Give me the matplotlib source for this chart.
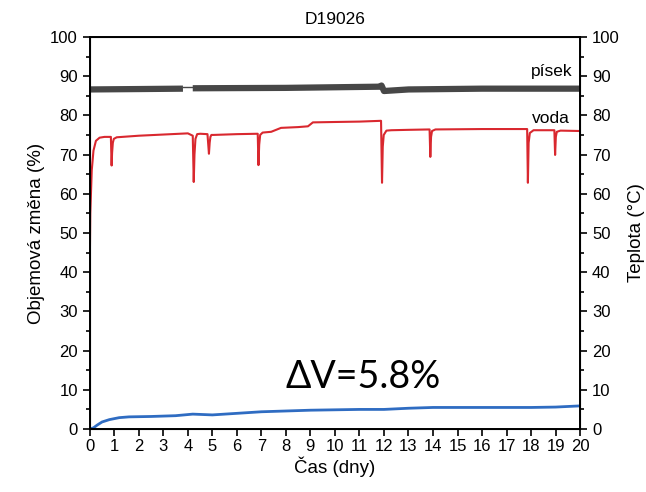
import matplotlib.pyplot as plt
import numpy as np
from matplotlib.ticker import MultipleLocator

plt.rcParams['font.family'] = ['Liberation Sans', 'DejaVu Sans']

# voda (water) - volume change %
voda_t = [0, 0.02, 0.08, 0.15, 0.25, 0.4, 0.6, 0.86, 0.89, 0.91, 0.94, 0.98, 1.1, 2, 3, 4.0,
          4.2, 4.24, 4.27, 4.31, 4.38, 4.5, 4.8, 4.86, 4.89, 4.92, 4.96, 5.05, 6, 6.85, 6.88,
          6.91, 6.95, 7.05, 7.4, 7.8, 8.5, 8.9, 9.1, 10, 11, 11.88, 11.92, 11.95, 11.99, 12.1,
          12.3, 13, 13.86, 13.89, 13.92, 13.96, 14.1, 16, 17.84, 17.87, 17.9, 17.95, 18.1,
          18.3, 18.95, 18.98, 19.01, 19.05, 19.2, 20]
voda_v = [42, 55, 66, 71, 73.5, 74.3, 74.5, 74.5, 67.2, 70.5, 73, 74, 74.4, 74.8, 75.1, 75.4,
          74.8, 63, 70, 74, 75.2, 75.3, 75.2, 70.2, 73, 74.5, 75.0, 75.0, 75.2, 75.3, 67.3,
          72.5, 75, 75.6, 75.8, 76.8, 77.0, 77.2, 78.2, 78.3, 78.4, 78.6, 62.8, 72, 75, 76.1,
          76.2, 76.3, 76.4, 69.4, 74.5, 76, 76.4, 76.5, 76.5, 62.8, 73, 75.5, 76.2, 76.2,
          76.2, 69.9, 74.5, 75.8, 76.1, 76.0]

# písek (sand)
pisek_t = [0, 2, 3.8, np.nan, 4.2, 8, 11.8, 11.9, 12.0, 12.5, 13, 16, 20]
pisek_v = [86.6, 86.7, 86.8, np.nan, 86.9, 87.0, 87.3, 87.6, 86.2, 86.4, 86.6, 86.8, 86.8]
gap_t = [3.8, 4.2]
gap_v = [87.2, 87.2]

# volume change of sample
dv_t = [0, 0.15, 0.3, 0.5, 0.8, 1.2, 1.6, 2.5, 3.5, 4.2, 5, 6, 7, 8, 9, 10, 11, 12, 13,
        14, 15, 16, 17, 18, 19, 20]
dv_v = [0, 0.3, 1.0, 1.8, 2.4, 2.9, 3.1, 3.2, 3.4, 3.8, 3.6, 4.0, 4.4, 4.6, 4.8, 4.9, 5.0,
        5.0, 5.3, 5.5, 5.5, 5.5, 5.5, 5.5, 5.6, 5.9]

fig = plt.figure(figsize=(6.46, 4.92), dpi=100)
ax = fig.add_axes([0.139, 0.128, 0.759, 0.797])

ax.plot(pisek_t, pisek_v, color='#474747', lw=4.5, solid_capstyle='butt')
ax.plot(gap_t, gap_v, color='#474747', lw=1)
ax.plot(voda_t, voda_v, color='#d9282f', lw=1.5)
ax.plot(dv_t, dv_v, color='#2f6cc2', lw=2)

ax.set_xlim(0, 20)
ax.set_ylim(0, 100)
ax.xaxis.set_major_locator(MultipleLocator(1))
ax.yaxis.set_major_locator(MultipleLocator(10))
ax.yaxis.set_minor_locator(MultipleLocator(5))
ax.tick_params(which='major', direction='out', length=5, width=1.2, labelsize=12)
ax.tick_params(which='minor', direction='out', length=3, width=1.2)
ax.tick_params(axis='x', pad=2)
for s in ax.spines.values():
    s.set_linewidth(1.4)

ax2 = ax.twinx()
ax2.set_ylim(0, 100)
ax2.yaxis.set_major_locator(MultipleLocator(10))
ax2.yaxis.set_minor_locator(MultipleLocator(5))
ax2.tick_params(which='major', direction='out', length=5, width=1.2, labelsize=12)
ax2.tick_params(which='minor', direction='out', length=3, width=1.2)

ax.set_xlabel('Čas (dny)', fontsize=13.5, labelpad=2)
ax.set_ylabel('Objemová změna (%)', fontsize=13.5, labelpad=4)
ax2.set_ylabel('Teplota (°C)', fontsize=13.5, labelpad=6)
ax.set_title('D19026', fontsize=12.5, pad=9)

ax.text(19.7, 89.3, 'písek', fontsize=12.5, ha='right', va='bottom')
ax.text(19.6, 77.3, 'voda', fontsize=12.5, ha='right', va='bottom')
ax.text(8.0, 10.4, 'ΔV=5.8%', fontsize=27, family=['Lato', 'DejaVu Sans'])

fig.savefig('out.png', dpi=100)
